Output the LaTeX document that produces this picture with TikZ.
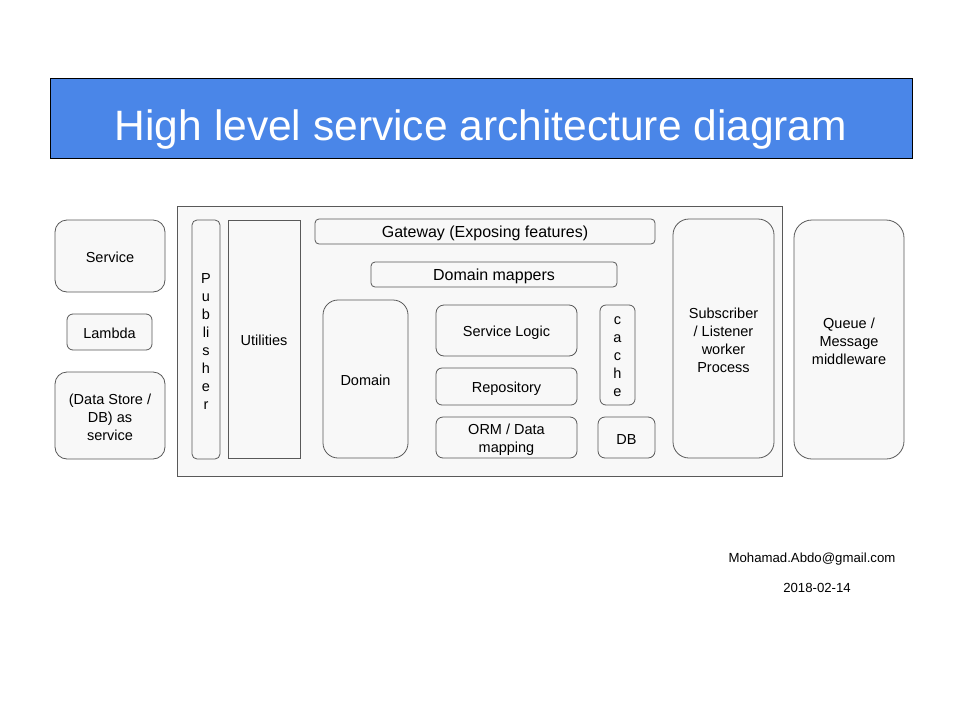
\documentclass[tikz,border=0pt]{standalone}
\usepackage{fontspec}
\setmainfont{Liberation Sans}
\definecolor{linegray}{HTML}{595959}
\definecolor{boxfill}{HTML}{F8F8F8}
\definecolor{titleblue}{HTML}{4A86E8}
\newcommand\archbox[8][14.5]{%
  \node[box=#7, minimum width={#4-#2}, minimum height={#5-#3}]
        (#6) at ({(#2+#4)/2},{(#3+#5)/2}) {};
  \node[boxtext, font=\fontsize{#1}{18}\selectfont]
        (#6-text) at ([yshift=-1.8pt]#6.center) {#8};}
\tikzset{
  box/.style={draw=linegray, fill=boxfill, line width=0.8pt,
              rounded corners=#1, inner sep=0pt, outer sep=0pt},
  box/.default=0pt,
  boxtext/.style={inner sep=0pt, align=center, text=black}
}
\begin{document}
\begin{tikzpicture}[x=1pt,y=-1pt]
\useasboundingbox[fill=white] (0,0) rectangle (960,720);
% title
\node[draw=black, fill=titleblue, line width=0.8pt, inner sep=0pt,
      minimum width=862, minimum height=80] (title) at (481,118) {};
\node[anchor=base, text=white, font=\fontsize{42.5}{48}\selectfont, inner sep=0pt]
      (titletext) at (481,140) {High level service architecture diagram};
% container
\node[box, minimum width=605, minimum height=270] (container) at (479.5,341) {};
% left column
\archbox{55}{220}{165}{292}{service}{12pt}{Service}
\archbox{67}{314}{152}{350}{lambda}{6pt}{Lambda}
\archbox{55}{372}{165}{459}{datastore}{12pt}{(Data Store /\\DB) as\\service}
% inside container
\archbox{192}{220}{220}{459}{publisher}{5pt}{P\\u\\b\\li\\s\\h\\e\\r}
\archbox{228}{220}{300}{458}{utilities}{0pt}{Utilities}
\archbox[16]{315}{219}{655}{244}{gateway}{4pt}{Gateway (Exposing features)}
\archbox[16]{371}{262}{617}{287}{mappers}{4pt}{Domain mappers}
\archbox{323}{300}{408}{458}{domain}{15pt}{Domain}
\archbox{436}{305}{577}{356}{logic}{8pt}{Service Logic}
\archbox{436}{368}{577}{405}{repo}{6pt}{Repository}
\archbox{436}{417}{577}{458}{orm}{7pt}{ORM / Data\\mapping}
\archbox{600}{305}{635}{405}{cache}{6pt}{c\\a\\c\\h\\e}
\archbox{598}{417}{655}{458}{db}{7pt}{DB}
\archbox{673}{219}{774}{458}{subscriber}{16pt}{Subscriber\\/ Listener\\worker\\Process}
% right
\archbox{794}{220}{904}{459}{queue}{18pt}{Queue /\\Message\\middleware}
% footer
\node[font=\fontsize{13.2}{16}\selectfont, inner sep=0pt] (email) at (812,559) {Mohamad.Abdo@gmail.com};
\node[font=\fontsize{13.2}{16}\selectfont, inner sep=0pt] (date) at (817,588) {2018-02-14};
\end{tikzpicture}
\end{document}
